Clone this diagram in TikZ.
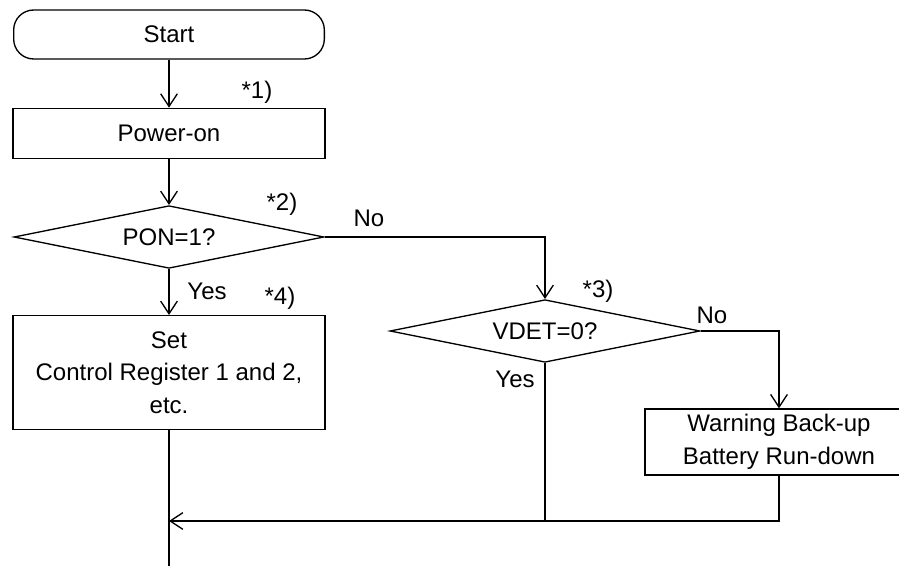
\documentclass[tikz,border=0pt]{standalone}
\usepackage{fontspec}
\setmainfont{Liberation Sans}
\usetikzlibrary{positioning,arrows.meta,shapes.geometric}

\begin{document}
\begin{tikzpicture}[
  x=0.75pt, y=-0.75pt,
  font=\fontsize{18}{24.4}\selectfont,
  line width=1pt,
  node distance=34.5pt,
  terminal/.style={draw, rounded corners=15pt, minimum width=233pt, minimum height=36.75pt, inner sep=0pt},
  box/.style={draw, align=center, minimum width=234pt, inner sep=0pt},
  decision/.style={draw, diamond, aspect=4.8, inner sep=0pt, minimum width=232.5pt, minimum height=47pt},
  arrow/.style={-{Straight Barb[length=9.5pt,width=12.5pt]}},
  note/.style={inner sep=0pt}
]
\useasboundingbox (0,0) rectangle (899,566);

% Nodes (main column)
\node[terminal] (start) at (169,34.5) {Start};
\node[box, minimum height=37.5pt, below=36pt of start] (power) {Power-on};
\node[decision, below=of power] (pon) {PON=1?};
\node[box, minimum height=85.5pt, below=of pon] (set) {Set\\Control Register 1 and 2,\\etc.};

% Nodes (right branch)
\node[decision] (vdet) at (545,331) {VDET=0?};
\node[box, minimum width=201pt, minimum height=49.5pt] (warn) at (779,442) {Warning Back-up\\Battery Run-down};

% Merge point and exit
\coordinate (merge) at (set.south |- 0,521);
\coordinate (exit) at (set.south |- 0,570);

% Labels
\node[note] (n1) at (257,92) {*1)};
\node[note] (n2) at (282,204) {*2)};
\node[note] (n3) at (598,291) {*3)};
\node[note] (n4) at (280,298) {*4)};
\node[note] (ponno) at (369,218) {No};
\node[note] (ponyes) at (207,291) {Yes};
\node[note] (vdetno) at (712,315) {No};
\node[note] (vdetyes) at (515,379) {Yes};

% Connectors
\draw[arrow] (start) -- (power);
\draw[arrow] (power) -- (pon);
\draw[arrow] (pon) -- (set);
\draw[arrow] (pon.east) -| (vdet.north);
\draw[arrow] (vdet.east) -| (warn.north);
\draw (vdet.south) -- (vdet.south |- merge);
\draw[arrow] (warn.south) |- (merge);
\draw (set.south) -- (exit);

\end{tikzpicture}
\end{document}
